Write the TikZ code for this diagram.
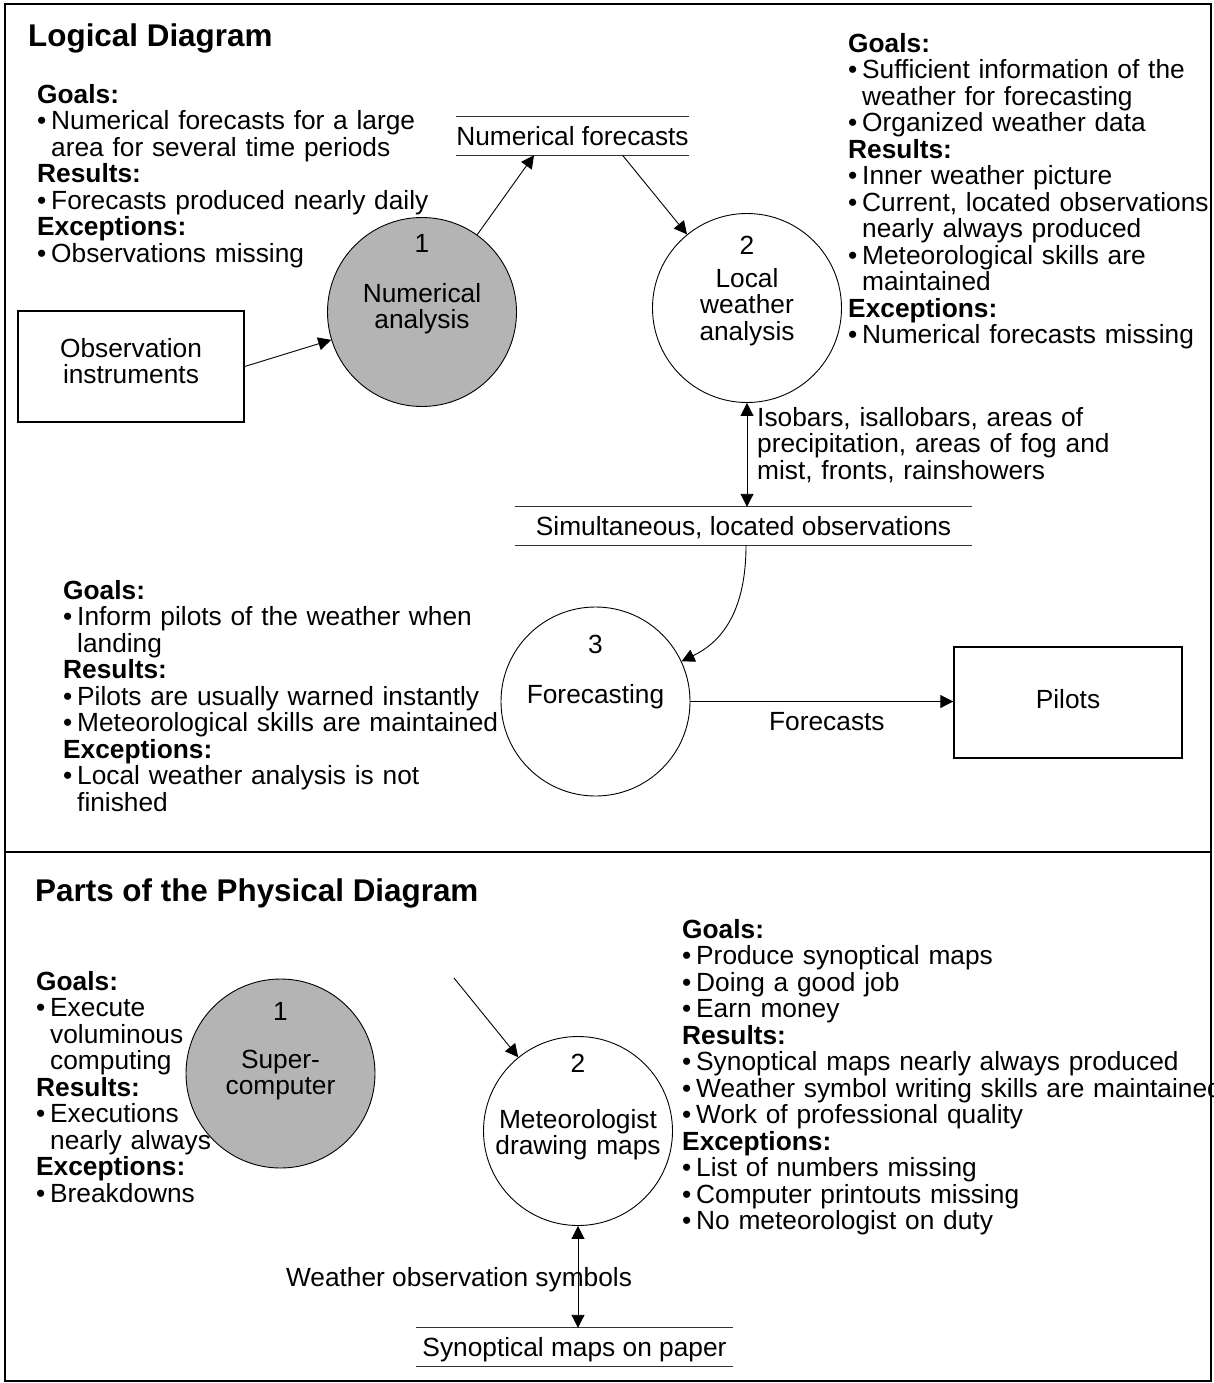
\documentclass[tikz,border=0pt]{standalone}
\usepackage{fontspec}
\setmainfont{Liberation Sans}
\usetikzlibrary{arrows.meta}
\definecolor{procgray}{HTML}{B4B4B4}
\setlength{\parindent}{0pt}
\newcommand{\topstrut}{\rule{0pt}{20pt}}
\newcommand{\bul}{\makebox[14pt][l]{\textbullet}}
\newcommand{\ind}{\hspace*{14pt}}

\begin{document}
\begin{tikzpicture}[x=1pt, y=-1pt,
    font=\fontsize{26.3}{26.5}\selectfont,
    >={Triangle[length=13pt,width=13pt]},
    proc/.style = {draw, circle, minimum size=189pt, inner sep=0pt, line width=0.9pt},
    hw/.style = {proc, fill=procgray},
    ext/.style = {draw, line width=1.4pt, inner sep=0pt},
    store/.style = {inner sep=0pt, minimum height=38pt, text height=19pt, text depth=0pt},
    storeline/.style = {line width=1.2pt, black!80},
    flow/.style = {line width=0.9pt},
    lbl/.style = {inner sep=0pt, anchor=base},
    ctr/.style = {inner sep=0pt, anchor=north, align=center, text width=220pt},
    notes/.style = {inner sep=0pt, anchor=north west, align=left, text width=560pt},
    title/.style = {inner sep=0pt, anchor=base west, font=\fontsize{31.4}{34}\selectfont\bfseries}]
    \useasboundingbox (0,0) rectangle (1214,1383);

    % logical diagram
    \node [title] (t1) at (28,47) {Logical Diagram};
    \node [hw] (na) at (422,312) {};
    \node [proc] (lwa) at (747,308) {};
    \node [proc] (fc) at (595.5,701.5) {};
    \node [ext, minimum width=226pt, minimum height=111pt] (obs) at (131,366.5) {};
    \node [ext, minimum width=228pt, minimum height=111pt] (pil) at (1068,702.5) {};
    \node [store, minimum width=229pt] (nf) at (572.5,136) {Numerical forecasts};
    \node [store, minimum width=457pt] (slo) at (743.5,526) {Simultaneous, located observations};
    \draw [storeline] (nf.north west) -- (nf.north east);
    \draw [storeline] (nf.south west) -- (nf.south east);
    \draw [storeline] (slo.north west) -- (slo.north east);
    \draw [storeline] (slo.south west) -- (slo.south east);

    \node [lbl] (na-n) at (422,252) {1};
    \node [ctr] (na-t) at (422,282) {\topstrut Numerical\\analysis};
    \node [lbl] (lwa-n) at (747,254) {2};
    \node [ctr] (lwa-t) at (747,267) {\topstrut Local\\weather\\analysis};
    \node [lbl] (fc-n) at (595.5,653) {3};
    \node [lbl] (fc-t) at (595.5,703) {Forecasting};
    \node [ctr] (obs-t) at (131,337) {\topstrut Observation\\instruments};
    \node [lbl] (pil-t) at (1068,708) {Pilots};

    \draw [flow, ->] (obs.east) -- (na);
    \draw [flow, ->] (na) -- ([xshift=-38.5pt]nf.south);
    \draw [flow, ->] ([xshift=50pt]nf.south) -- (lwa);
    \draw [flow, <->] (lwa.south) -- (lwa.south |- slo.north);
    \draw [flow, ->] ([xshift=2.5pt]slo.south) .. controls (746,620) and (715,645) .. (fc.25);
    \draw [flow, ->] (fc.east) -- node [lbl, xshift=5pt, yshift=-29pt] (fcst) {Forecasts} (fc.east -| pil.west);

    \node [notes] (iso) at (757,406) {\topstrut Isobars, isallobars, areas of\\precipitation, areas of fog and\\mist, fronts, rainshowers};

    \node [notes] (goals-na) at (37,83) {\topstrut\textbf{Goals:}\\
        \bul Numerical forecasts for a large\\
        \ind area for several time periods\\
        \textbf{Results:}\\
        \bul Forecasts produced nearly daily\\
        \textbf{Exceptions:}\\
        \bul Observations missing};
    \node [notes] (goals-lwa) at (848,32) {\topstrut\textbf{Goals:}\\
        \bul Sufficient information of the\\
        \ind weather for forecasting\\
        \bul Organized weather data\\
        \textbf{Results:}\\
        \bul Inner weather picture\\
        \bul Current, located observations\\
        \ind nearly always produced\\
        \bul Meteorological skills are\\
        \ind maintained\\
        \textbf{Exceptions:}\\
        \bul Numerical forecasts missing};
    \node [notes] (goals-fc) at (63,579) {\topstrut\textbf{Goals:}\\
        \bul Inform pilots of the weather when\\
        \ind landing\\
        \textbf{Results:}\\
        \bul Pilots are usually warned instantly\\
        \bul Meteorological skills are maintained\\
        \textbf{Exceptions:}\\
        \bul Local weather analysis is not\\
        \ind finished};

    % physical diagram
    \node [title] (t2) at (35,901) {Parts of the Physical Diagram};
    \node [hw] (sc) at (280.5,1073.5) {};
    \node [proc] (mdm) at (578,1131) {};
    \node [store, minimum width=317pt] (smp) at (574.5,1347) {Synoptical maps on paper};
    \draw [storeline] (smp.north west) -- (smp.north east);
    \draw [storeline] (smp.south west) -- (smp.south east);

    \node [lbl] (sc-n) at (280.5,1020) {1};
    \node [ctr] (sc-t) at (280.5,1048) {\topstrut Super-\\computer};
    \node [lbl] (mdm-n) at (578,1072) {2};
    \node [ctr] (mdm-t) at (578,1108) {\topstrut Meteorologist\\drawing maps};

    \coordinate (cin) at (454,978);
    \draw [flow, ->] (cin) -- (mdm);
    \draw [flow, <->] (mdm.south) -- node [lbl, xshift=-119pt, yshift=-10pt] (wos) {Weather observation symbols} (mdm.south |- smp.north);

    \node [notes] (goals-sc) at (36,970) {\topstrut\textbf{Goals:}\\
        \bul Execute\\
        \ind voluminous\\
        \ind computing\\
        \textbf{Results:}\\
        \bul Executions\\
        \ind nearly always\\
        \textbf{Exceptions:}\\
        \bul Breakdowns};
    \node [notes] (goals-mdm) at (682,918) {\topstrut\textbf{Goals:}\\
        \bul Produce synoptical maps\\
        \bul Doing a good job\\
        \bul Earn money\\
        \textbf{Results:}\\
        \bul Synoptical maps nearly always produced\\
        \bul Weather symbol writing skills are maintained\\
        \bul Work of professional quality\\
        \textbf{Exceptions:}\\
        \bul List of numbers missing\\
        \bul Computer printouts missing\\
        \bul No meteorologist on duty};

    % frame
    \draw [line width=1.6pt] (5,4) rectangle (1211,1381);
    \draw [line width=1.6pt] (5,852) -- (1211,852);
\end{tikzpicture}
\end{document}
